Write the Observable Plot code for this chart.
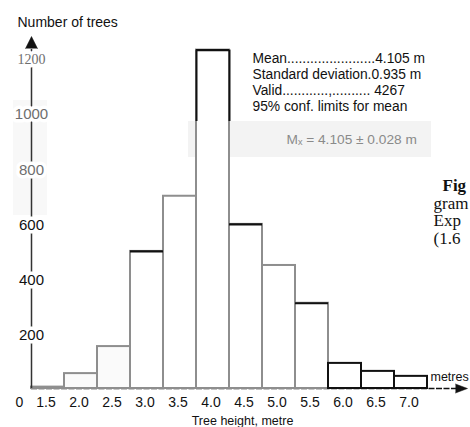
<!DOCTYPE html>
<html>
<head>
<meta charset="utf-8">
<script src="https://cdn.jsdelivr.net/npm/d3@7"></script>
<script src="https://cdn.jsdelivr.net/npm/@observablehq/plot@0.6"></script>
<style>
  html, body { margin: 0; padding: 0; background: #fff; overflow: hidden; }
  #chart svg { display: block; }
</style>
</head>
<body>
<div id="chart"></div>
<script>
// ---- data ----
const classes = [1.5, 2.0, 2.5, 3.0, 3.5, 4.0, 4.5, 5.0, 5.5, 6.0, 6.5, 7.0];
const counts  = [5, 54, 152, 497, 697, 1227, 595, 446, 309, 91, 62, 44];
const xTickLabels = ["1.5", "2.0", "2.5", "3.0", "3.5", "4.0", "4.5", "5.0", "5.5", "6.0", "6.5", "7.0"];
const yTicks = [200, 400, 600, 800, 1000, 1200];
const yTitle = "Number of trees";
const xTitle = "Tree height, metre";
const xUnit = "metres";
const statLines = [
  "Mean.......................4.105 m",
  "Standard deviation.0.935 m",
  "Valid............,.......... 4267",
  "95% conf. limits for mean"
];
const meanCI = "M\u2093 = 4.105 \u00b1 0.028 m";
const captionBold = "Fig";
const captionLines = ["gram", "Exp", "(1.6"];

// ---- build table ----
const bars = classes.map((c, i) => ({h: c, n: counts[i], label: xTickLabels[i]}));
const half = 0.25;
const xMin = classes[0] - half, xMax = classes[classes.length - 1] + half;
const sans = "Liberation Sans, Arial, sans-serif";
const serif = "Liberation Serif, Times New Roman, serif";

const W = 470, H = 427;
const xr = [31, 427], yr = [388, 57];
// helpers to convert picture positions (px) to data units for annotations
const px2x = p => xMin + (p - xr[0]) * (xMax - xMin) / (xr[1] - xr[0]);
const px2y = p => (yr[0] - p) * 1200 / (yr[0] - yr[1]);

const plot = Plot.plot({
  width: W, height: H,
  marginLeft: 0, marginRight: 0, marginTop: 0, marginBottom: 0,
  x: {type: "linear", domain: [xMin, xMax], range: xr, axis: null},
  y: {type: "linear", domain: [0, 1200], range: yr, axis: null},
  style: {fontFamily: sans, background: "#fff"},
  marks: [
    // faint scan band behind the confidence-limit line
    Plot.rect([meanCI], {x1: px2x(188), x2: px2x(431), y1: px2y(157), y2: px2y(121), fill: "#f3f3f3"}),
    Plot.rect([0], {x1: px2x(13), x2: px2x(47), y1: px2y(215), y2: px2y(100), fill: "#f8f8f8"}),
    // baseline with arrow
    Plot.ruleY([0], {x1: xMin, x2: px2x(458), stroke: "#111", strokeWidth: 1.6, strokeDasharray: "6,1.5"}),
    Plot.vector([0], {x: px2x(455), y: 0, rotate: 90, length: 12, r: 4.5, shape: "spike", anchor: "start", fill: "#111", stroke: "#111", strokeWidth: 0.5}),
    // histogram bars
    Plot.rectY(bars, {
      x1: d => d.h - half, x2: d => d.h + half, y: "n",
      fill: d => (d.h === 2.0 || d.h === 2.5) ? "#fafafa" : "#fff",
      stroke: d => d.h >= 6 ? "#111" : "#8e8e8e", strokeWidth: 2
    }),
    // darker scanned tops on some bars
    Plot.ruleY(bars.filter(d => [3.0, 4.0, 4.5, 5.5].includes(d.h)), {
      x1: d => d.h - half, x2: d => d.h + half, y: "n", stroke: "#111", strokeWidth: 2.2
    }),
    Plot.ruleX(bars.filter(d => d.h === 4.0), {x: d => d.h - half, y1: px2y(121), y2: "n", stroke: "#111", strokeWidth: 2}),
    Plot.ruleX(bars.filter(d => d.h === 4.0), {x: d => d.h + half, y1: px2y(121), y2: "n", stroke: "#111", strokeWidth: 2}),
    // y axis line & arrow
    Plot.ruleX([xMin], {y1: 0, y2: px2y(49), stroke: "#333", strokeWidth: 1.5}),
    Plot.vector([0], {x: xMin, y: px2y(48), length: 12, r: 6, shape: "spike", anchor: "start", fill: "#111", stroke: "#111", strokeWidth: 0.5}),
    Plot.text([yTitle], {x: px2x(17), y: px2y(22), text: d => d, textAnchor: "start", fontSize: 14, fill: "#111", letterSpacing: "-0.3px"}),
    // y tick labels (halo breaks the axis line)
    Plot.text(yTicks.filter(t => t < 1200), {
      x: xMin, y: d => d, text: d => String(d), dy: 2, fontSize: 15,
      fill: d => d >= 800 ? "#6e6e6e" : "#111",
      stroke: "#fff", strokeWidth: 7, paintOrder: "stroke"
    }),
    Plot.text(yTicks.filter(t => t === 1200), {
      x: xMin, y: d => d, text: d => String(d), dy: 2, fontSize: 14, fontFamily: serif,
      fill: "#6e6e6e", stroke: "#fff", strokeWidth: 7, paintOrder: "stroke"
    }),
    // x tick labels
    Plot.text(bars, {x: "h", y: 0, text: "label", dy: 14, dx: -2, fontSize: 14, fill: "#111"}),
    Plot.text(["0"], {x: xMin, y: 0, dy: 14, dx: -12, fontSize: 14, fill: "#111"}),
    Plot.text([xTitle], {x: px2x(242), y: px2y(420), fontSize: 12.5, fill: "#111"}),
    Plot.text([xUnit], {x: px2x(430), y: px2y(376), textAnchor: "start", fontSize: 12.5, fill: "#111"}),
    // statistics block
    Plot.text([statLines.join("\n")], {
      x: px2x(252), y: px2y(51), textAnchor: "start", lineAnchor: "top",
      lineHeight: 1.17, fontSize: 13.8, fill: "#111"
    }),
    Plot.text([meanCI], {x: px2x(286), y: px2y(139), textAnchor: "start", fontSize: 13.7, fill: "#8a8a8a"}),
    // cut-off caption of the book page
    Plot.text([captionBold], {x: px2x(442), y: px2y(185), textAnchor: "start", fontSize: 17, fontWeight: "bold", fontFamily: serif, fill: "#111"}),
    Plot.text(captionLines, {
      x: px2x(433), y: (d, i) => px2y(203 + i * 17.3), text: d => d,
      textAnchor: "start", fontSize: 17, fontFamily: serif, fill: "#111"
    })
  ]
});
document.getElementById("chart").appendChild(plot);
</script>
</body>
</html>
